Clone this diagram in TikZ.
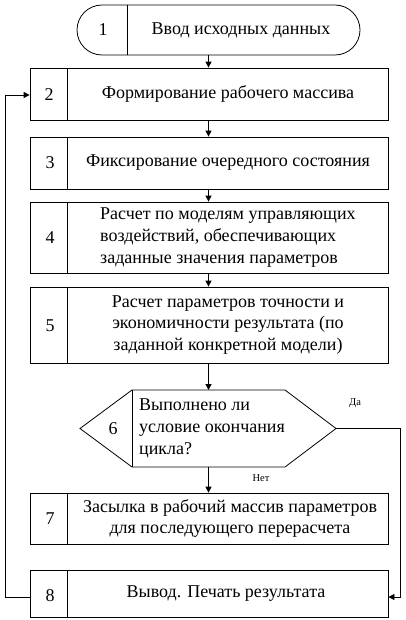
\documentclass[tikz,border=0pt]{standalone}
\usepackage{fontspec}
\setmainfont{Liberation Serif}
\usetikzlibrary{arrows.meta,calc}
\tikzset{
  box/.style={draw, line width=0.8pt, minimum width=358pt, inner sep=0pt},
  term/.style={draw, line width=0.8pt, rounded corners=25pt, minimum width=283pt, minimum height=50pt, inner sep=0pt},
  txt/.style={font=\fontsize{18}{21.7}\selectfont, inner sep=0pt, align=center},
  num/.style={font=\fontsize{18}{21.7}\selectfont, inner sep=0pt},
  lbl/.style={font=\fontsize{10.5}{12}\selectfont, inner sep=0pt},
  divider/.style={line width=0.8pt},
  arr/.style={line width=1.3pt, -{Triangle[length=6pt,width=6pt]}},
  loopline/.style={line width=0.8pt, -{Triangle[length=6pt,width=6pt]}}
}
\begin{document}
\begin{tikzpicture}[x=1pt,y=-1pt]
\useasboundingbox (0,0) rectangle (406,620);
\coordinate (ax) at (208.5,0);
% box 1
\node[term] (b1) at (218.5,30) {};
\draw[divider] ([xshift=51pt]b1.north west) -- ([xshift=51pt]b1.south west);
\node[num] (n1) at (103,30) {1};
\node[txt] (t1) at (241,30) {Ввод исходных данных};
% box 2
\node[box, minimum height=52pt] (b2) at (209,94) {};
\draw[divider] ([xshift=38pt]b2.north west) -- ([xshift=38pt]b2.south west);
\node[num] (n2) at (49,95) {2};
\node[txt] (t2) at (228,94) {Формирование рабочего массива};
% box 3
\node[box, minimum height=52pt] (b3) at (209,163) {};
\draw[divider] ([xshift=38pt]b3.north west) -- ([xshift=38pt]b3.south west);
\node[num] (n3) at (50,163) {3};
\node[txt] (t3) at (228,163) {Фиксирование очередного состояния};
% box 4
\node[box, minimum height=71pt] (b4) at (209,237.5) {};
\draw[divider] ([xshift=38pt]b4.north west) -- ([xshift=38pt]b4.south west);
\node[num] (n4) at (50,238) {4};
\node[txt, align=left, anchor=west] (t4) at (100,237.5) {Расчет по моделям управляющих\\воздействий, обеспечивающих\\заданные значения параметров};
% box 5
\node[box, minimum height=76pt] (b5) at (209,325) {};
\draw[divider] ([xshift=38pt]b5.north west) -- ([xshift=38pt]b5.south west);
\node[num] (n5) at (50,326) {5};
\node[txt] (t5) at (228,325) {Расчет параметров точности и\\экономичности результата (по\\заданной конкретной модели)};
% decision 6
\coordinate (d6l) at (80,428.5);
\coordinate (d6tl) at (132,390);
\coordinate (d6tr) at (285,390);
\coordinate (d6r) at (336,428.5);
\coordinate (d6br) at (285,467);
\coordinate (d6bl) at (132,467);
\draw[divider] (d6l) -- (d6tl) -- (d6tr) -- (d6r) -- (d6br) -- (d6bl) -- cycle;
\draw[divider] (d6tl) -- (d6bl);
\node[num] (n6) at (113,429) {6};
\node[txt, align=left, anchor=west] (t6) at (139,428.5) {Выполнено ли\\условие окончания\\цикла?};
% box 7
\node[box, minimum height=51pt] (b7) at (209,518.5) {};
\draw[divider] ([xshift=38pt]b7.north west) -- ([xshift=38pt]b7.south west);
\node[num] (n7) at (50,519) {7};
\node[txt] (t7) at (230,518.5) {Засылка в рабочий массив параметров\\для последующего перерасчета};
% box 8
\node[box, minimum height=47pt] (b8) at (209,593.5) {};
\draw[divider] ([xshift=38pt]b8.north west) -- ([xshift=38pt]b8.south west);
\node[num] (n8) at (50,596) {8};
\node[txt] (t8) at (226,594) {Вывод. Печать результата};
% arrows
\draw[arr] (b1.south -| ax) -- (b2.north -| ax);
\draw[arr] (b2.south -| ax) -- (b3.north -| ax);
\draw[arr] (b3.south -| ax) -- (b4.north -| ax);
\draw[arr] (b4.south -| ax) -- (b5.north -| ax);
\draw[arr] (b5.south -| ax) -- (d6tl -| ax);
\draw[arr] (d6bl -| ax) -- (b7.north -| ax);
% yes branch
\coordinate (rx) at (400,0);
\coordinate (y8) at (0,597);
\draw[loopline] (d6r) -- (d6r -| rx) -- (rx |- y8) -- (b8.east |- y8);
\node[lbl] (yes) at (355,403) {Да};
\node[lbl] (no) at (261,478) {Нет};
% loop back
\coordinate (lx) at (5,0);
\coordinate (y2) at (0,95);
\draw[loopline] (b8.west |- y8) -- (lx |- y8) -- (lx |- y2) -- (b2.west |- y2);
\end{tikzpicture}
\end{document}
